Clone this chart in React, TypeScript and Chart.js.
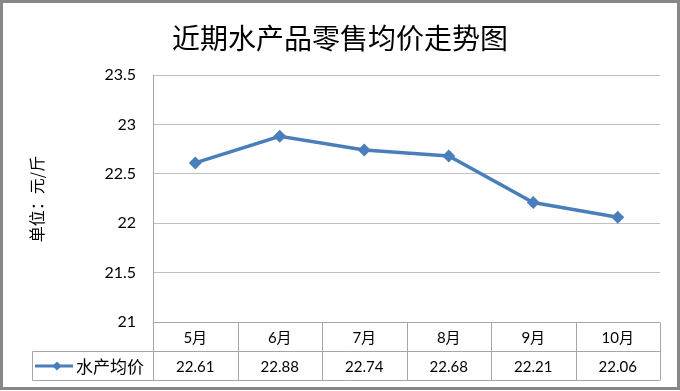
import React, { useEffect, useRef } from "react";
import { Chart, registerables } from "chart.js";

Chart.register(...registerables);

const TITLE = "近期水产品零售均价走势图";
const Y_TITLE = "单位：元/斤";
const SERIES_NAME = "水产均价";
const CATEGORIES = ["5月", "6月", "7月", "8月", "9月", "10月"];
const VALUES = [22.61, 22.88, 22.74, 22.68, 22.21, 22.06];
const VALUE_LABELS = ["22.61", "22.88", "22.74", "22.68", "22.21", "22.06"];
const Y_MIN = 21;
const Y_MAX = 23.5;
const Y_STEP = 0.5;

const LINE_COLOR = "#4A7EBB";
const GRID_COLOR = "#BFBFBF";
const AXIS_COLOR = "#A6A6A6";
const BORDER_COLOR = "#878787";
const LATIN = "Lato, 'Noto Sans CJK SC', sans-serif";
const CJK = "'Noto Sans CJK SC', sans-serif";

const decorPlugin = {
  id: "decor",
  afterDraw(chart: any) {
    const ctx: CanvasRenderingContext2D = chart.ctx;
    const area = chart.chartArea;
    const xs = chart.scales.x;
    const left = area.left;
    const right = area.right;
    const bottom = area.bottom;
    const colW = (right - left) / CATEGORIES.length;
    const row1Top = Math.round(bottom) + 0.5;
    const row2Top = row1Top + 29;
    const row2Bot = row2Top + 29;
    const legendLeft = 32.5;

    ctx.save();
    // title
    ctx.fillStyle = "#000";
    ctx.font = `28px ${CJK}`;
    ctx.textAlign = "center";
    ctx.textBaseline = "middle";
    ctx.fillText(TITLE, 340, 38);

    // y title
    ctx.save();
    ctx.translate(37, 199);
    ctx.rotate(-Math.PI / 2);
    ctx.font = `16px ${CJK}`;
    ctx.fillText(Y_TITLE, 0, 0);
    ctx.restore();

    // table lines
    ctx.strokeStyle = AXIS_COLOR;
    ctx.lineWidth = 1;
    ctx.beginPath();
    ctx.moveTo(left, row1Top);
    ctx.lineTo(right, row1Top);
    ctx.moveTo(legendLeft, row2Top);
    ctx.lineTo(right, row2Top);
    ctx.moveTo(legendLeft, row2Bot);
    ctx.lineTo(right, row2Bot);
    ctx.moveTo(legendLeft, row2Top);
    ctx.lineTo(legendLeft, row2Bot);
    for (let k = 0; k <= CATEGORIES.length; k++) {
      const x = Math.round(left + k * colW) + 0.5;
      ctx.moveTo(x, k === 0 ? area.top : row1Top);
      ctx.lineTo(x, row2Bot);
    }
    ctx.stroke();

    // texts
    ctx.fillStyle = "#000";
    ctx.textAlign = "center";
    ctx.font = `15px ${LATIN}`;
    CATEGORIES.forEach((c, i) => {
      const x = xs.getPixelForValue(i);
      ctx.fillText(c, x, (row1Top + row2Top) / 2 + 1);
      ctx.fillText(VALUE_LABELS[i], x, (row2Top + row2Bot) / 2 + 1);
    });

    // legend key
    const ly = (row2Top + row2Bot) / 2;
    ctx.strokeStyle = LINE_COLOR;
    ctx.lineWidth = 3;
    ctx.beginPath();
    ctx.moveTo(35, ly);
    ctx.lineTo(73, ly);
    ctx.stroke();
    ctx.fillStyle = LINE_COLOR;
    ctx.beginPath();
    ctx.moveTo(57, ly - 4.5);
    ctx.lineTo(61.5, ly);
    ctx.lineTo(57, ly + 4.5);
    ctx.lineTo(52.5, ly);
    ctx.closePath();
    ctx.fill();
    ctx.fillStyle = "#000";
    ctx.textAlign = "left";
    ctx.font = `17px ${CJK}`;
    ctx.fillText(SERIES_NAME, 76, ly + 1);

    // outer border
    ctx.strokeStyle = BORDER_COLOR;
    ctx.lineWidth = 3;
    ctx.strokeRect(1.5, 1.5, 677, 387);
    ctx.restore();
  },
};

export default function App() {
  const ref = useRef<HTMLCanvasElement>(null);
  useEffect(() => {
    document.body.style.margin = "0";
    const chart = new Chart(ref.current as HTMLCanvasElement, {
      type: "line",
      data: {
        labels: CATEGORIES,
        datasets: [
          {
            label: SERIES_NAME,
            data: VALUES,
            borderColor: LINE_COLOR,
            backgroundColor: LINE_COLOR,
            borderWidth: 3.5,
            pointStyle: "rectRot",
            pointRadius: 6.5,
            pointHoverRadius: 6.5,
            pointBackgroundColor: LINE_COLOR,
            pointBorderColor: LINE_COLOR,
            pointBorderWidth: 0,
            tension: 0,
          },
        ],
      },
      options: {
        responsive: false,
        animation: false,
        layout: { padding: { left: 0, top: 75, right: 20, bottom: 69 } },
        plugins: {
          legend: { display: false },
          title: { display: false },
          tooltip: { enabled: false },
        },
        scales: {
          x: {
            display: false,
            offset: true,
          },
          y: {
            min: Y_MIN,
            max: Y_MAX,
            afterFit: (scale: any) => {
              scale.width = 153;
            },
            ticks: {
              stepSize: Y_STEP,
              padding: 17,
              color: "#000",
              font: { family: LATIN, size: 16 },
              callback: (v: any) => String(v),
            },
            grid: { color: GRID_COLOR, drawTicks: false },
            border: { display: true, color: AXIS_COLOR },
          },
        },
      },
      plugins: [decorPlugin],
    });
    return () => chart.destroy();
  }, []);
  return <canvas ref={ref} width={680} height={391} style={{ display: "block" }} />;
}
